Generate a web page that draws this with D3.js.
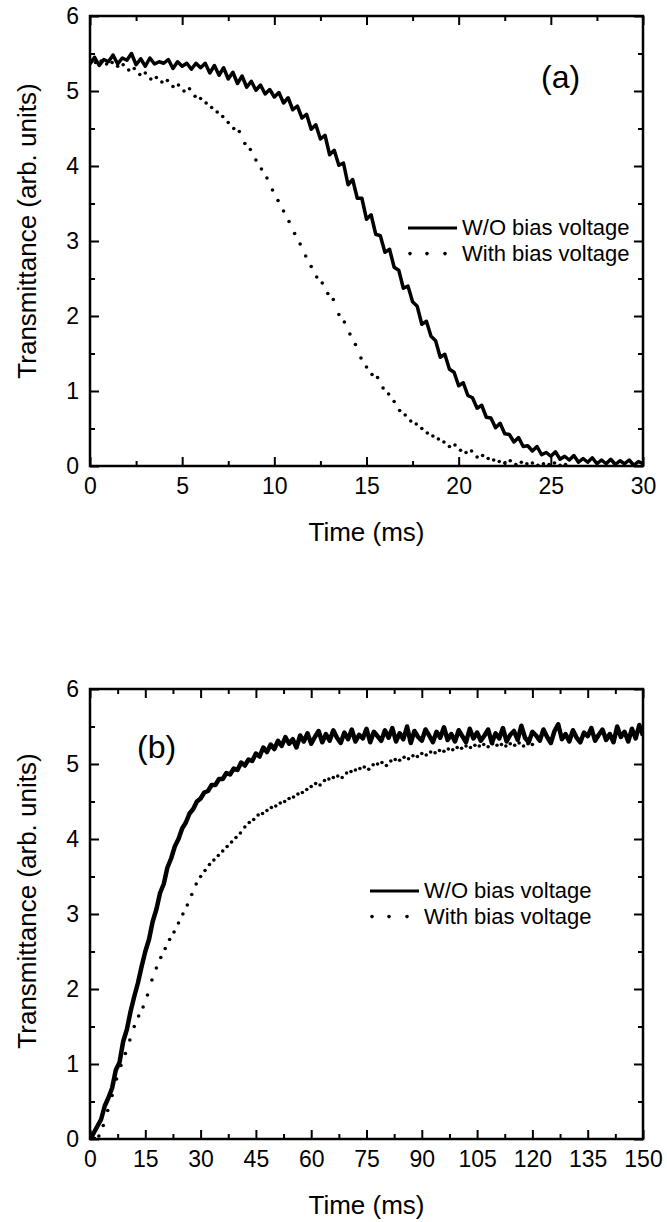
<!DOCTYPE html>
<html>
<head>
<meta charset="utf-8">
<script src="https://cdn.jsdelivr.net/npm/d3@7"></script>
<style>
  body { margin: 0; background: #fff; }
  text { font-family: "Liberation Sans", Arial, sans-serif; fill: #000; }
</style>
</head>
<body>
<script>
const w = 667
const h = 1222

// panel (a): decay, sampled every 0.25 ms (solid) and 0.3 ms (dots)
const stepSolidA = 0.25
const solidA = [
  5.36, 5.45, 5.34, 5.42, 5.39, 5.48, 5.36, 5.44, 5.41, 5.50, 5.35, 5.43,
  5.33, 5.44, 5.36, 5.39, 5.37, 5.42, 5.30, 5.39, 5.33, 5.37, 5.29, 5.37,
  5.31, 5.37, 5.24, 5.34, 5.21, 5.31, 5.16, 5.25, 5.10, 5.20, 5.05, 5.13,
  5.01, 5.08, 4.96, 5.02, 4.92, 4.98, 4.84, 4.91, 4.75, 4.80, 4.64, 4.69,
  4.49, 4.55, 4.36, 4.41, 4.15, 4.21, 4.01, 4.04, 3.75, 3.82, 3.57, 3.57,
  3.29, 3.35, 3.09, 3.07, 2.85, 2.89, 2.65, 2.61, 2.37, 2.40, 2.19, 2.13,
  1.89, 1.93, 1.73, 1.67, 1.45, 1.49, 1.29, 1.25, 1.07, 1.11, 0.94, 0.91,
  0.77, 0.81, 0.65, 0.64, 0.51, 0.57, 0.43, 0.42, 0.32, 0.38, 0.26, 0.27,
  0.20, 0.26, 0.15, 0.18, 0.13, 0.19, 0.09, 0.13, 0.08, 0.14, 0.05, 0.10,
  0.05, 0.11, 0.03, 0.08, 0.03, 0.09, 0.02, 0.07, 0.03, 0.08, 0.01, 0.06,
  0.03
]
const stepDottedA = 0.3
const dottedA = [
  5.42, 5.38, 5.40, 5.36, 5.38, 5.33, 5.35, 5.28, 5.30, 5.22, 5.24, 5.16,
  5.18, 5.12, 5.14, 5.06, 5.08, 5.00, 5.03, 4.93, 4.90, 4.84, 4.78, 4.72,
  4.66, 4.58, 4.50, 4.46, 4.30, 4.22, 4.08, 3.96, 3.84, 3.68, 3.54, 3.40,
  3.26, 3.10, 2.96, 2.80, 2.66, 2.52, 2.44, 2.30, 2.22, 2.02, 1.92, 1.76,
  1.62, 1.44, 1.32, 1.22, 1.18, 1.04, 0.96, 0.86, 0.74, 0.68, 0.60, 0.56,
  0.50, 0.44, 0.40, 0.36, 0.32, 0.26, 0.28, 0.21, 0.18, 0.20, 0.12, 0.14,
  0.10, 0.08, 0.06, 0.04, 0.07, 0.02, 0.05, 0.03, 0.04, 0.01, 0.03, 0.02,
  0.04, 0.01, 0.02
]

// panel (b): rise, sampled every 1 ms (solid) and 1.2 ms (dots)
const stepSolidB = 1
const solidB = [
  0.00,
  0.08, 0.17, 0.26, 0.44, 0.55, 0.68, 0.92, 1.02, 1.30, 1.46,
  1.70, 1.90, 2.08, 2.30, 2.50, 2.66, 2.90, 3.06, 3.28, 3.40,
  3.62, 3.74, 3.90, 4.00, 4.14, 4.22, 4.34, 4.40, 4.50, 4.54,
  4.62, 4.64, 4.72, 4.72, 4.80, 4.80, 4.88, 4.86, 4.94, 4.92,
  5.02, 4.98, 5.06, 5.04, 5.14, 5.10, 5.22, 5.16, 5.26, 5.20,
  5.31, 5.24, 5.36, 5.27, 5.33, 5.22, 5.38, 5.30, 5.41, 5.27,
  5.36, 5.44, 5.29, 5.40, 5.31, 5.45, 5.35, 5.28, 5.42, 5.33,
  5.46, 5.30, 5.39, 5.34, 5.47, 5.29, 5.43, 5.37, 5.31, 5.45,
  5.35, 5.48, 5.30, 5.41, 5.33, 5.50, 5.28, 5.44, 5.36, 5.31,
  5.46, 5.38, 5.29, 5.43, 5.35, 5.49, 5.32, 5.40, 5.30, 5.45,
  5.37, 5.29, 5.47, 5.34, 5.42, 5.31, 5.38, 5.46, 5.28, 5.41,
  5.34, 5.48, 5.30, 5.39, 5.44, 5.32, 5.51, 5.35, 5.29, 5.43,
  5.38, 5.31, 5.46, 5.36, 5.28, 5.44, 5.53, 5.33, 5.40, 5.30,
  5.45, 5.35, 5.29, 5.42, 5.37, 5.48, 5.31, 5.39, 5.46, 5.32,
  5.40, 5.29, 5.50, 5.36, 5.43, 5.30, 5.47, 5.34, 5.52, 5.38
]
const stepDottedB = 1.2
const dottedB = [
  0.00, 0.01, 0.04, 0.18, 0.38, 0.58, 0.80, 0.98, 1.14, 1.32,
  1.50, 1.64, 1.76, 1.92, 2.12, 2.28, 2.42, 2.54, 2.66, 2.76,
  2.88, 3.00, 3.12, 3.26, 3.40, 3.50, 3.58, 3.66, 3.72, 3.78,
  3.84, 3.90, 3.96, 4.02, 4.08, 4.16, 4.22, 4.26, 4.32, 4.34,
  4.38, 4.42, 4.44, 4.48, 4.50, 4.54, 4.56, 4.60, 4.62, 4.66,
  4.70, 4.74, 4.72, 4.78, 4.80, 4.82, 4.84, 4.82, 4.88, 4.90,
  4.92, 4.94, 4.96, 4.93, 4.99, 5.00, 5.02, 4.98, 5.04, 5.06,
  5.05, 5.09, 5.07, 5.11, 5.10, 5.14, 5.12, 5.16, 5.15, 5.18,
  5.17, 5.20, 5.19, 5.22, 5.21, 5.24, 5.22, 5.25, 5.24, 5.26,
  5.23, 5.27, 5.25, 5.26, 5.24, 5.27, 5.25, 5.28, 5.24, 5.27,
  5.26
]

const yTicks = [0, 1, 2, 3, 4, 5, 6]
const yMinor = [0.5, 1.5, 2.5, 3.5, 4.5, 5.5]
const xTicksA = [0, 5, 10, 15, 20, 25, 30]
const xMinorA = [2.5, 7.5, 12.5, 17.5, 22.5, 27.5]
const xTicksB = [0, 15, 30, 45, 60, 75, 90, 105, 120, 135, 150]
const xMinorB = [7.5, 22.5, 37.5, 52.5, 67.5, 82.5, 97.5, 112.5, 127.5, 142.5]
const legendLabels = ['W/O bias voltage', 'With bias voltage']
const xTitle = 'Time (ms)'
const yTitle = 'Transmittance (arb. units)'

const left = 90
const right = 643

const panels = [
  { top: 16, bottom: 466, xMax: 30, ticks: xTicksA, minor: xMinorA,
    solid: solidA, sStep: stepSolidA, dots: dottedA, dStep: stepDottedA, sw: 3.5,
    tag: '(a)', tagX: 541, tagY: 88, legX: 408, legY: 228, yTitleY: 231 },
  { top: 689, bottom: 1139, xMax: 150, ticks: xTicksB, minor: xMinorB,
    solid: solidB, sStep: stepSolidB, dots: dottedB, dStep: stepDottedB, sw: 4.5,
    tag: '(b)', tagX: 137, tagY: 758, legX: 370, legY: 891, yTitleY: 901 }
]

const svg = d3.select('body')
  .append('svg')
  .attr('width', w)
  .attr('height', h)

panels.forEach((p, k) => {
  const x = d3.scaleLinear().domain([0, p.xMax]).range([left, right])
  const y = d3.scaleLinear().domain([0, 6]).range([p.bottom, p.top])

  const clipId = 'clip' + k
  svg.append('clipPath').attr('id', clipId)
    .append('rect')
    .attr('x', left).attr('y', p.top)
    .attr('width', right - left).attr('height', p.bottom - p.top)

  const plot = svg.append('g').attr('clip-path', `url(#${clipId})`)

  // dotted series (with bias)
  plot.selectAll('circle')
    .data(p.dots)
    .join('circle')
    .attr('cx', (d, i) => x(i * p.dStep))
    .attr('cy', d => y(d))
    .attr('r', 1.8)
    .attr('fill', '#000')

  // solid series (without bias), noisy trace drawn thick
  const line = d3.line()
    .x((d, i) => x(i * p.sStep))
    .y(d => y(d))
  plot.append('path')
    .attr('d', line(p.solid))
    .attr('fill', 'none')
    .attr('stroke', '#000')
    .attr('stroke-width', p.sw)
    .attr('stroke-linejoin', 'round')

  // axes, ticks pointing inward on all four sides
  const addAxis = (axis, tr, vals, size, labels, pad) => {
    const g = svg.append('g')
      .attr('transform', tr)
      .call(axis.tickValues(vals).tickSize(-size).tickSizeOuter(0).tickPadding(pad)
        .tickFormat(labels ? d3.format('d') : ''))
    g.select('.domain').remove()
    g.selectAll('line').attr('stroke-width', 2)
    g.selectAll('text').attr('font-size', '23px')
    return g
  }
  addAxis(d3.axisBottom(x), `translate(0,${p.bottom})`, p.ticks, 9, true, 12)
  addAxis(d3.axisBottom(x), `translate(0,${p.bottom})`, p.minor, 5, false, 0)
  addAxis(d3.axisTop(x), `translate(0,${p.top})`, p.ticks, 9, false, 0)
  addAxis(d3.axisTop(x), `translate(0,${p.top})`, p.minor, 5, false, 0)
  addAxis(d3.axisLeft(y), `translate(${left},0)`, yTicks, 9, true, 11)
  addAxis(d3.axisLeft(y), `translate(${left},0)`, yMinor, 5, false, 0)
  addAxis(d3.axisRight(y), `translate(${right},0)`, yTicks, 9, false, 0)
  addAxis(d3.axisRight(y), `translate(${right},0)`, yMinor, 5, false, 0)

  svg.append('rect')
    .attr('x', left).attr('y', p.top)
    .attr('width', right - left).attr('height', p.bottom - p.top)
    .attr('fill', 'none')
    .attr('stroke', '#000')
    .attr('stroke-width', 2.5)

  // titles
  svg.append('text')
    .attr('x', (left + right) / 2)
    .attr('y', p.bottom + 75)
    .attr('text-anchor', 'middle')
    .attr('font-size', '26px')
    .text(xTitle)

  svg.append('text')
    .attr('transform', `translate(36,${p.yTitleY}) rotate(-90)`)
    .attr('text-anchor', 'middle')
    .attr('font-size', '26px')
    .text(yTitle)

  svg.append('text')
    .attr('x', p.tagX)
    .attr('y', p.tagY)
    .attr('font-size', '32px')
    .text(p.tag)

  // legend
  const leg = svg.append('g').attr('transform', `translate(${p.legX},${p.legY})`)
  leg.append('line')
    .attr('x1', 0).attr('x2', 49)
    .attr('y1', 0).attr('y2', 0)
    .attr('stroke', '#000')
    .attr('stroke-width', 3)
  leg.selectAll('circle')
    .data([2, 19, 37])
    .join('circle')
    .attr('cx', d => d)
    .attr('cy', 25.6)
    .attr('r', 1.8)
    .attr('fill', '#000')
  leg.selectAll('text')
    .data(legendLabels)
    .join('text')
    .attr('x', 54)
    .attr('y', (d, i) => 7 + i * 25.6)
    .attr('font-size', '22px')
    .text(d => d)
})
</script>
</body>
</html>
